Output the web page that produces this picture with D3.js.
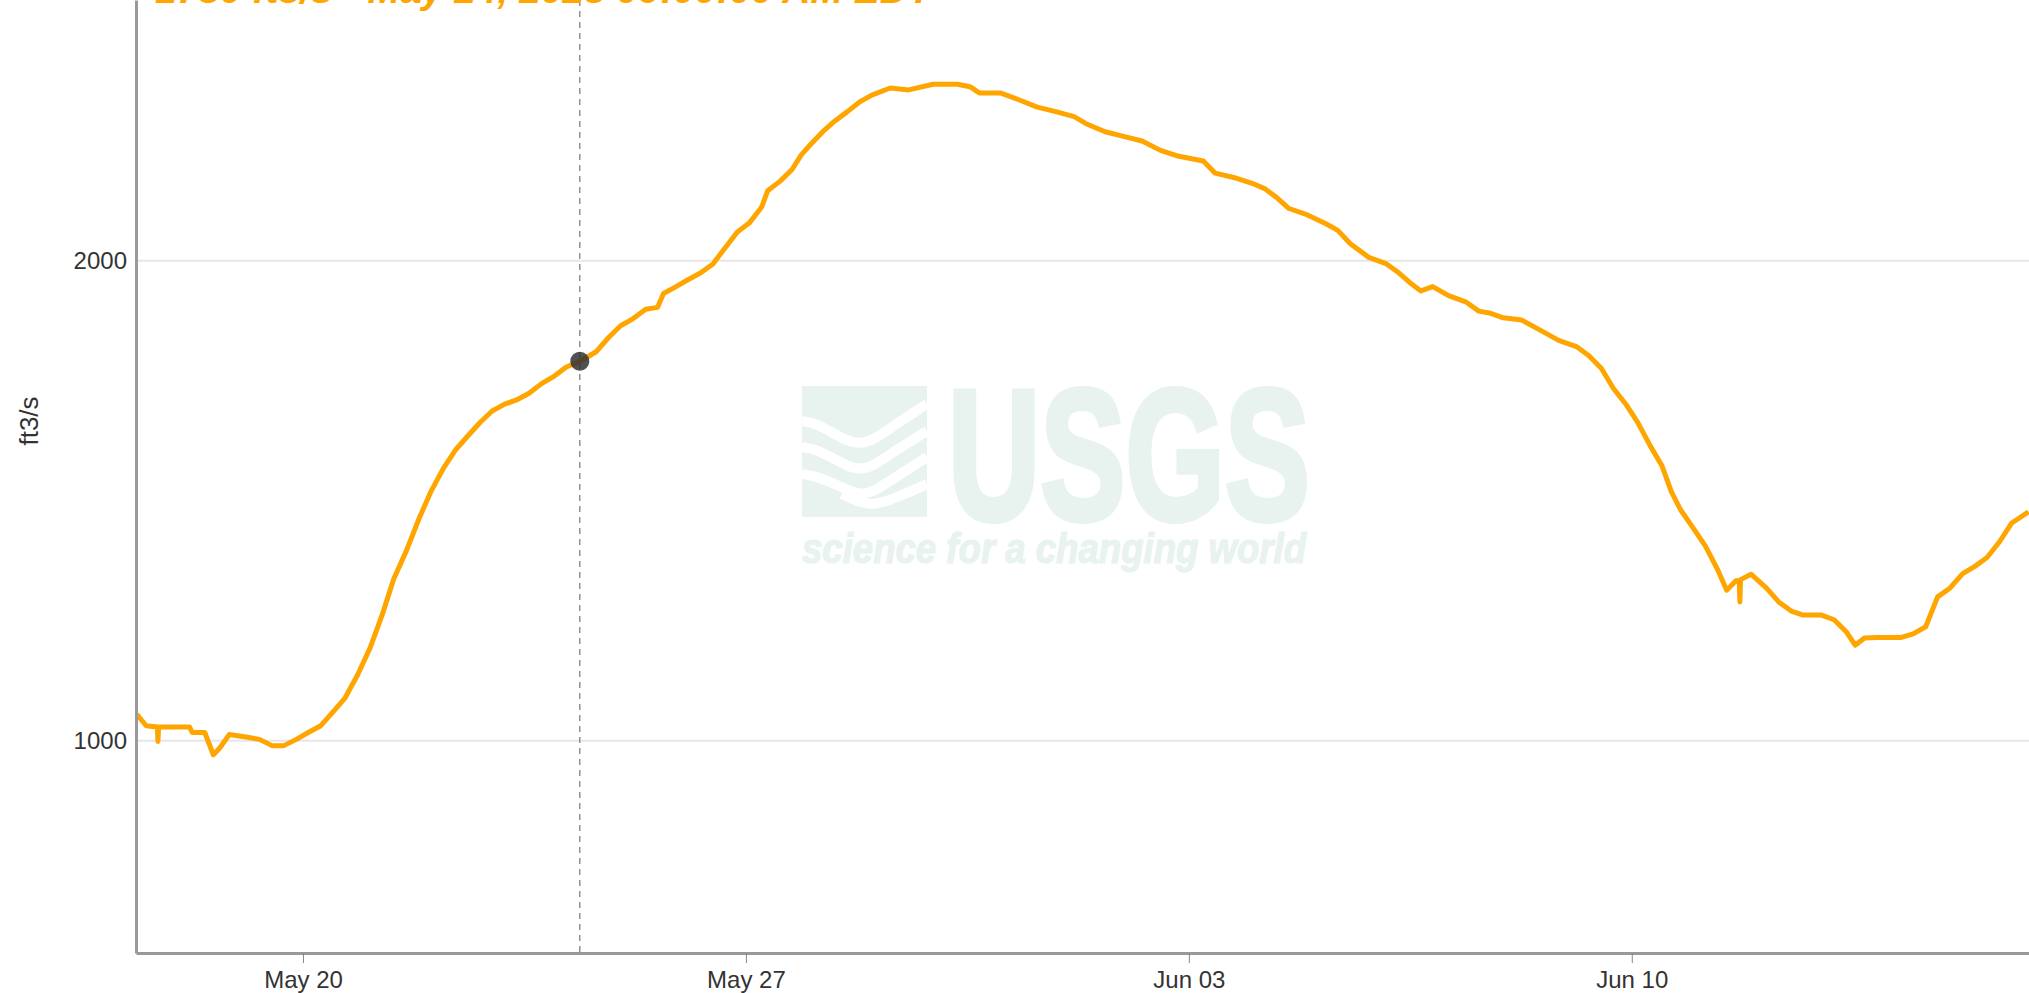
<!DOCTYPE html>
<html>
<head>
<meta charset="utf-8">
<script src="https://cdn.jsdelivr.net/npm/d3@7"></script>
<style>
html, body { margin: 0; padding: 0; background: #fff; }
svg { display: block; font-family: "Liberation Sans", Arial, sans-serif; }
</style>
</head>
<body>
<div id="chart"></div>
<script>
// discharge readings (ft3/s)
const times = [
    "2023-05-17 09:00", "2023-05-17 12:30", "2023-05-17 16:45", "2023-05-17 17:00", "2023-05-17 17:15",
    "2023-05-17 18:30", "2023-05-18 05:00", "2023-05-18 06:00", "2023-05-18 10:45", "2023-05-18 14:00",
    "2023-05-18 16:30", "2023-05-18 20:00", "2023-05-19 03:00", "2023-05-19 07:30", "2023-05-19 12:15",
    "2023-05-19 16:45", "2023-05-19 21:30", "2023-05-20 02:00", "2023-05-20 06:45", "2023-05-20 11:30",
    "2023-05-20 16:00", "2023-05-20 20:45", "2023-05-21 01:30", "2023-05-21 06:00", "2023-05-21 10:30",
    "2023-05-21 15:15", "2023-05-21 20:00", "2023-05-22 00:30", "2023-05-22 05:15", "2023-05-22 10:00",
    "2023-05-22 14:30", "2023-05-22 19:15", "2023-05-22 23:45", "2023-05-23 04:30", "2023-05-23 09:00",
    "2023-05-23 13:45", "2023-05-23 18:30", "2023-05-23 23:00", "2023-05-24 03:45", "2023-05-24 09:00",
    "2023-05-24 15:15", "2023-05-24 20:00", "2023-05-25 00:30", "2023-05-25 05:15", "2023-05-25 10:00",
    "2023-05-25 14:30", "2023-05-25 16:45", "2023-05-25 21:30", "2023-05-26 02:00", "2023-05-26 06:45",
    "2023-05-26 11:30", "2023-05-26 16:00", "2023-05-26 20:45", "2023-05-27 01:15", "2023-05-27 06:00",
    "2023-05-27 08:15", "2023-05-27 13:00", "2023-05-27 17:30", "2023-05-27 21:00", "2023-05-28 00:30",
    "2023-05-28 05:15", "2023-05-28 09:45", "2023-05-28 14:30", "2023-05-28 19:00", "2023-05-28 23:45",
    "2023-05-29 06:45", "2023-05-29 13:45", "2023-05-29 23:00", "2023-05-30 08:15", "2023-05-30 13:00",
    "2023-05-30 16:30", "2023-05-31 00:30", "2023-05-31 07:30", "2023-05-31 14:30", "2023-05-31 21:30",
    "2023-06-01 04:30", "2023-06-01 09:30", "2023-06-01 16:15", "2023-06-01 23:15", "2023-06-02 06:15",
    "2023-06-02 13:15", "2023-06-02 20:15", "2023-06-03 05:30", "2023-06-03 10:00", "2023-06-03 17:00",
    "2023-06-04 00:00", "2023-06-04 04:45", "2023-06-04 09:15", "2023-06-04 14:00", "2023-06-04 21:00",
    "2023-06-05 04:00", "2023-06-05 08:30", "2023-06-05 13:15", "2023-06-05 20:15", "2023-06-06 03:00",
    "2023-06-06 07:45", "2023-06-06 12:30", "2023-06-06 16:00", "2023-06-06 20:30", "2023-06-07 02:30",
    "2023-06-07 09:15", "2023-06-07 14:00", "2023-06-07 18:30", "2023-06-07 23:15", "2023-06-08 06:15",
    "2023-06-08 11:00", "2023-06-08 15:30", "2023-06-08 20:15", "2023-06-09 03:00", "2023-06-09 07:45",
    "2023-06-09 12:30", "2023-06-09 17:00", "2023-06-09 21:45", "2023-06-10 02:15", "2023-06-10 07:00",
    "2023-06-10 11:30", "2023-06-10 15:00", "2023-06-10 18:30", "2023-06-10 23:15", "2023-06-11 04:00",
    "2023-06-11 08:30", "2023-06-11 12:00", "2023-06-11 15:30", "2023-06-11 16:45", "2023-06-11 17:00",
    "2023-06-11 17:15", "2023-06-11 21:15", "2023-06-12 03:00", "2023-06-12 07:45", "2023-06-12 12:30",
    "2023-06-12 17:00", "2023-06-13 00:00", "2023-06-13 04:45", "2023-06-13 09:15", "2023-06-13 12:45",
    "2023-06-13 16:15", "2023-06-13 21:00", "2023-06-14 06:15", "2023-06-14 10:45", "2023-06-14 15:30",
    "2023-06-14 20:00", "2023-06-15 00:45", "2023-06-15 05:30", "2023-06-15 10:00", "2023-06-15 14:45",
    "2023-06-15 19:30", "2023-06-16 00:00", "2023-06-16 06:30"
];
const flows = [
    1039, 1022, 1020, 999, 1020,
    1020, 1020, 1012, 1012, 980,
    990, 1009, 1005, 1002, 993,
    993, 1002, 1012, 1022, 1043,
    1064, 1100, 1144, 1199, 1264,
    1316, 1378, 1433, 1482, 1523,
    1553, 1584, 1610, 1626, 1636,
    1652, 1675, 1692, 1715, 1730,
    1754, 1791, 1821, 1840, 1865,
    1870, 1908, 1927, 1946, 1965,
    1991, 2037, 2085, 2112, 2162,
    2213, 2244, 2282, 2331, 2366,
    2411, 2448, 2481, 2515, 2541,
    2567, 2560, 2581, 2581, 2572,
    2549, 2549, 2524, 2497, 2481,
    2463, 2436, 2410, 2394, 2378,
    2346, 2326, 2310, 2270, 2256,
    2237, 2220, 2192, 2157, 2137,
    2110, 2090, 2050, 2010, 1991,
    1965, 1934, 1915, 1927, 1902,
    1884, 1860, 1854, 1842, 1836,
    1818, 1801, 1783, 1767, 1744,
    1712, 1664, 1626, 1584, 1531,
    1487, 1433, 1396, 1360, 1324,
    1281, 1243, 1260, 1260, 1222,
    1262, 1272, 1247, 1222, 1206,
    1199, 1199, 1191, 1171, 1148,
    1160, 1161, 1161, 1167, 1179,
    1231, 1247, 1273, 1286, 1303,
    1333, 1369, 1392
];

const xTicks = ["2023-05-20 00:00", "2023-05-27 00:00", "2023-06-03 00:00", "2023-06-10 00:00"];
const yTicks = [1000, 2000];
const xDomain = ["2023-05-17 08:40", "2023-06-16 06:40"];
const yDomain = [736, 2915];

const focusTime = "2023-05-24 09:00";
const focusFlow = 1730;
const titleText = "1730 ft3/s - May 24, 2023 09:00:00 AM EDT";
const unitLabel = "ft3/s";

const parse = d3.timeParse("%Y-%m-%d %H:%M");
const data = times.map((t, i) => ({date: parse(t), value: flows[i]}));

const W = 2029, H = 993;
const margin = {top: 0, right: 0, bottom: 40, left: 136};
const plotBottom = H - margin.bottom;   // x axis line

const lineColor = "#ffa500";
const markColor = "#e8f2ef";

const svg = d3.select("#chart")
    .append("svg")
        .attr("width", W)
        .attr("height", H);

const x = d3.scaleTime()
    .domain(xDomain.map(parse))
    .range([margin.left, W - margin.right]);

const y = d3.scaleLog()
    .domain(yDomain)
    .range([plotBottom, margin.top]);

// grid
svg.append("g")
    .selectAll("line")
    .data(yTicks)
    .join("line")
        .attr("x1", margin.left)
        .attr("x2", W)
        .attr("y1", d => y(d))
        .attr("y2", d => y(d))
        .attr("stroke", "#e6e6e6")
        .attr("stroke-width", 2);

// USGS watermark
let logo = svg.append("g").attr("transform", "translate(802,386)");
logo.append("rect")
    .attr("width", 125)
    .attr("height", 131)
    .attr("fill", markColor);

let waves = [
    [[0, 35], [13, 37], [31, 47], [45, 55], [59, 58], [73, 53], [94, 38], [125, 18]],
    [[0, 61], [13, 63], [31, 72], [45, 80], [59, 84], [73, 79], [94, 64], [125, 45]],
    [[0, 88], [13, 90], [31, 97], [45, 104], [59, 109], [73, 105], [94, 91], [125, 71]],
    [[40, 108], [59, 117], [73, 119], [94, 112], [125, 98]]
];
logo.selectAll("path.wave")
    .data(waves)
    .join("path")
        .attr("class", "wave")
        .attr("d", d3.line().curve(d3.curveBasis))
        .attr("fill", "none")
        .attr("stroke", "#fff")
        .attr("stroke-width", 10);

svg.append("text")
    .attr("x", 948)
    .attr("y", 519)
    .attr("textLength", 362)
    .attr("lengthAdjust", "spacingAndGlyphs")
    .style("font-family", "'Liberation Sans', Arial, sans-serif")
    .style("font-weight", "bold")
    .style("font-size", "186px")
    .style("stroke", markColor)
    .style("stroke-width", 6)
    .attr("fill", markColor)
    .text("USGS");

svg.append("text")
    .attr("x", 802)
    .attr("y", 563)
    .attr("textLength", 504)
    .attr("lengthAdjust", "spacingAndGlyphs")
    .style("font-family", "'Liberation Sans', Arial, sans-serif")
    .style("font-weight", "bold")
    .style("font-style", "italic")
    .style("font-size", "42px")
    .style("stroke", markColor)
    .style("stroke-width", 1.2)
    .attr("fill", markColor)
    .text("science for a changing world");

// series
svg.append("path")
    .datum(data)
    .attr("fill", "none")
    .attr("stroke", lineColor)
    .attr("stroke-width", 5)
    .attr("stroke-linejoin", "round")
    .attr("d", d3.line()
        .x(d => x(d.date))
        .y(d => y(d.value)));

// focus marker
svg.append("line")
    .attr("x1", x(parse(focusTime)))
    .attr("x2", x(parse(focusTime)))
    .attr("y1", 0)
    .attr("y2", plotBottom)
    .attr("stroke", "#777")
    .attr("stroke-width", 1.2)
    .attr("stroke-dasharray", "6,5");

svg.append("circle")
    .attr("cx", x(parse(focusTime)))
    .attr("cy", y(focusFlow))
    .attr("r", 9.5)
    .attr("fill", "#333")
    .attr("fill-opacity", 0.85);

// axes
let xAxis = svg.append("g")
    .attr("transform", `translate(0,${plotBottom})`)
    .call(d3.axisBottom(x)
        .tickValues(xTicks.map(parse))
        .tickFormat(d3.timeFormat("%b %d"))
        .tickSize(10)
        .tickSizeOuter(0)
        .tickPadding(8));

let yAxis = svg.append("g")
    .attr("transform", `translate(${margin.left},0)`)
    .call(d3.axisLeft(y)
        .tickValues(yTicks)
        .tickFormat(d3.format("d"))
        .tickSize(0)
        .tickSizeOuter(0)
        .tickPadding(9));

[xAxis, yAxis].forEach(g => {
    g.select(".domain").attr("stroke", "#999").attr("stroke-width", 3);
    g.selectAll(".tick line").attr("stroke", "#888").attr("stroke-width", 1);
    g.selectAll(".tick text")
        .attr("fill", "#333")
        .style("font-family", "'Liberation Sans', Arial, sans-serif")
        .style("font-size", "24px");
});

// labels
svg.append("text")
    .attr("transform", "translate(38,421) rotate(-90)")
    .attr("text-anchor", "middle")
    .attr("fill", "#333")
    .style("font-size", "26px")
    .text(unitLabel);

svg.append("text")
    .attr("x", 155)
    .attr("y", 3)
    .attr("fill", lineColor)
    .style("font-size", "39px")
    .style("font-weight", "bold")
    .style("font-style", "italic")
    .text(titleText);
</script>
</body>
</html>
